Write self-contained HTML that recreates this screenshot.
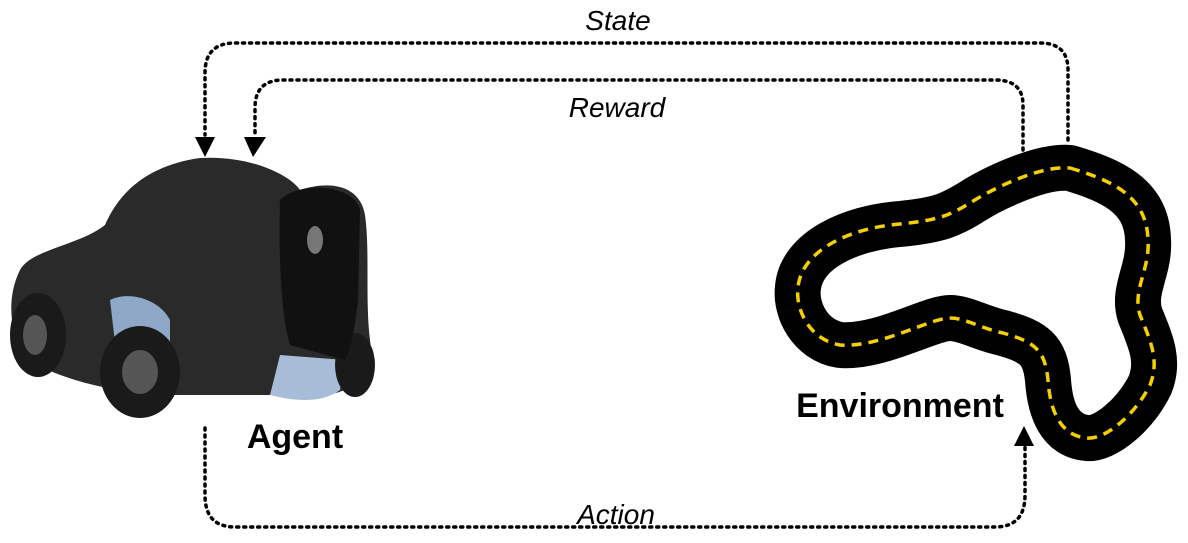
<!DOCTYPE html>
<html><head><style>
body{margin:0;background:#fff;}
svg{display:block;}
text{font-family:"Liberation Sans",sans-serif;}
</style></head><body>
<svg width="1188" height="543" viewBox="0 0 1188 543">
<g fill="none" stroke="#000" stroke-width="3.5" stroke-dasharray="2 5" stroke-linecap="round">
<path d="M1068 140 V70 Q1068 43 1040 43 H235 Q205 43 205 73 V135"/>
<path d="M1023 150 V105 Q1023 80 995 80 H283 Q255 80 255 108 V135"/>
<path d="M205 428 V495 Q205 527 235 527 H995 Q1025 527 1025 495 V445"/>
</g>
<g fill="#000">
<polygon points="195,137 215,137 205,157"/>
<polygon points="244,137 266,137 253,157"/>
<polygon points="1014,446 1034,446 1024,426"/>
</g>
<text x="618" y="30" font-size="28" font-style="italic" text-anchor="middle">State</text>
<text x="617" y="117" font-size="28" font-style="italic" text-anchor="middle">Reward</text>
<text x="616" y="524" font-size="28" font-style="italic" text-anchor="middle">Action</text>
<text x="295" y="448" font-size="34" font-weight="bold" text-anchor="middle">Agent</text>
<text x="900" y="417" font-size="34" font-weight="bold" text-anchor="middle">Environment</text>
<!-- track -->
<path id="tr" d="M1070 168 C1110 180 1147 195 1148 240 C1150 270 1132 290 1140 315 C1150 340 1160 360 1150 385 C1135 415 1105 440 1087 438 C1060 436 1050 410 1048 380 C1045 350 1035 342 1003 333 C980 328 965 318 950 318 C930 318 880 348 840 345 C810 340 795 310 798 287 C802 250 850 228 900 224 C940 220 950 215 970 203 C990 190 1040 165 1070 168 Z" fill="none" stroke="#000" stroke-width="46" stroke-linejoin="round"/>
<path d="M1070 168 C1110 180 1147 195 1148 240 C1150 270 1132 290 1140 315 C1150 340 1160 360 1150 385 C1135 415 1105 440 1087 438 C1060 436 1050 410 1048 380 C1045 350 1035 342 1003 333 C980 328 965 318 950 318 C930 318 880 348 840 345 C810 340 795 310 798 287 C802 250 850 228 900 224 C940 220 950 215 970 203 C990 190 1040 165 1070 168 Z" fill="none" stroke="#f5d000" stroke-width="3.5" stroke-dasharray="10 7"/>
<!-- car -->
<g>
<path d="M20 270 C30 250 80 245 105 225 C120 190 150 165 200 158 C250 155 290 175 300 190 C330 180 360 185 365 215 C370 250 365 300 370 340 C375 375 350 395 320 395 L150 395 C110 390 60 380 30 360 C10 340 5 300 20 270 Z" fill="#2a2a2a"/>
<path d="M110 300 C130 290 160 300 170 320 L170 380 L120 385 Z" fill="#8fa8c8"/>
<path d="M270 395 C290 400 320 405 340 390 L345 360 L280 355 Z" fill="#a8bcd8"/>
<ellipse cx="140" cy="372" rx="40" ry="46" fill="#1a1a1a"/>
<ellipse cx="140" cy="372" rx="18" ry="22" fill="#555"/>
<ellipse cx="38" cy="335" rx="28" ry="42" fill="#1a1a1a"/>
<ellipse cx="35" cy="335" rx="12" ry="20" fill="#555"/>
<ellipse cx="355" cy="365" rx="20" ry="32" fill="#1a1a1a"/>
<path d="M280 200 C300 180 355 185 360 210 L358 300 C355 330 350 350 345 360 L290 345 C282 320 278 260 280 200 Z" fill="#111"/>
<ellipse cx="315" cy="240" rx="8" ry="14" fill="#777"/>
</g>
</svg>
</body></html>
